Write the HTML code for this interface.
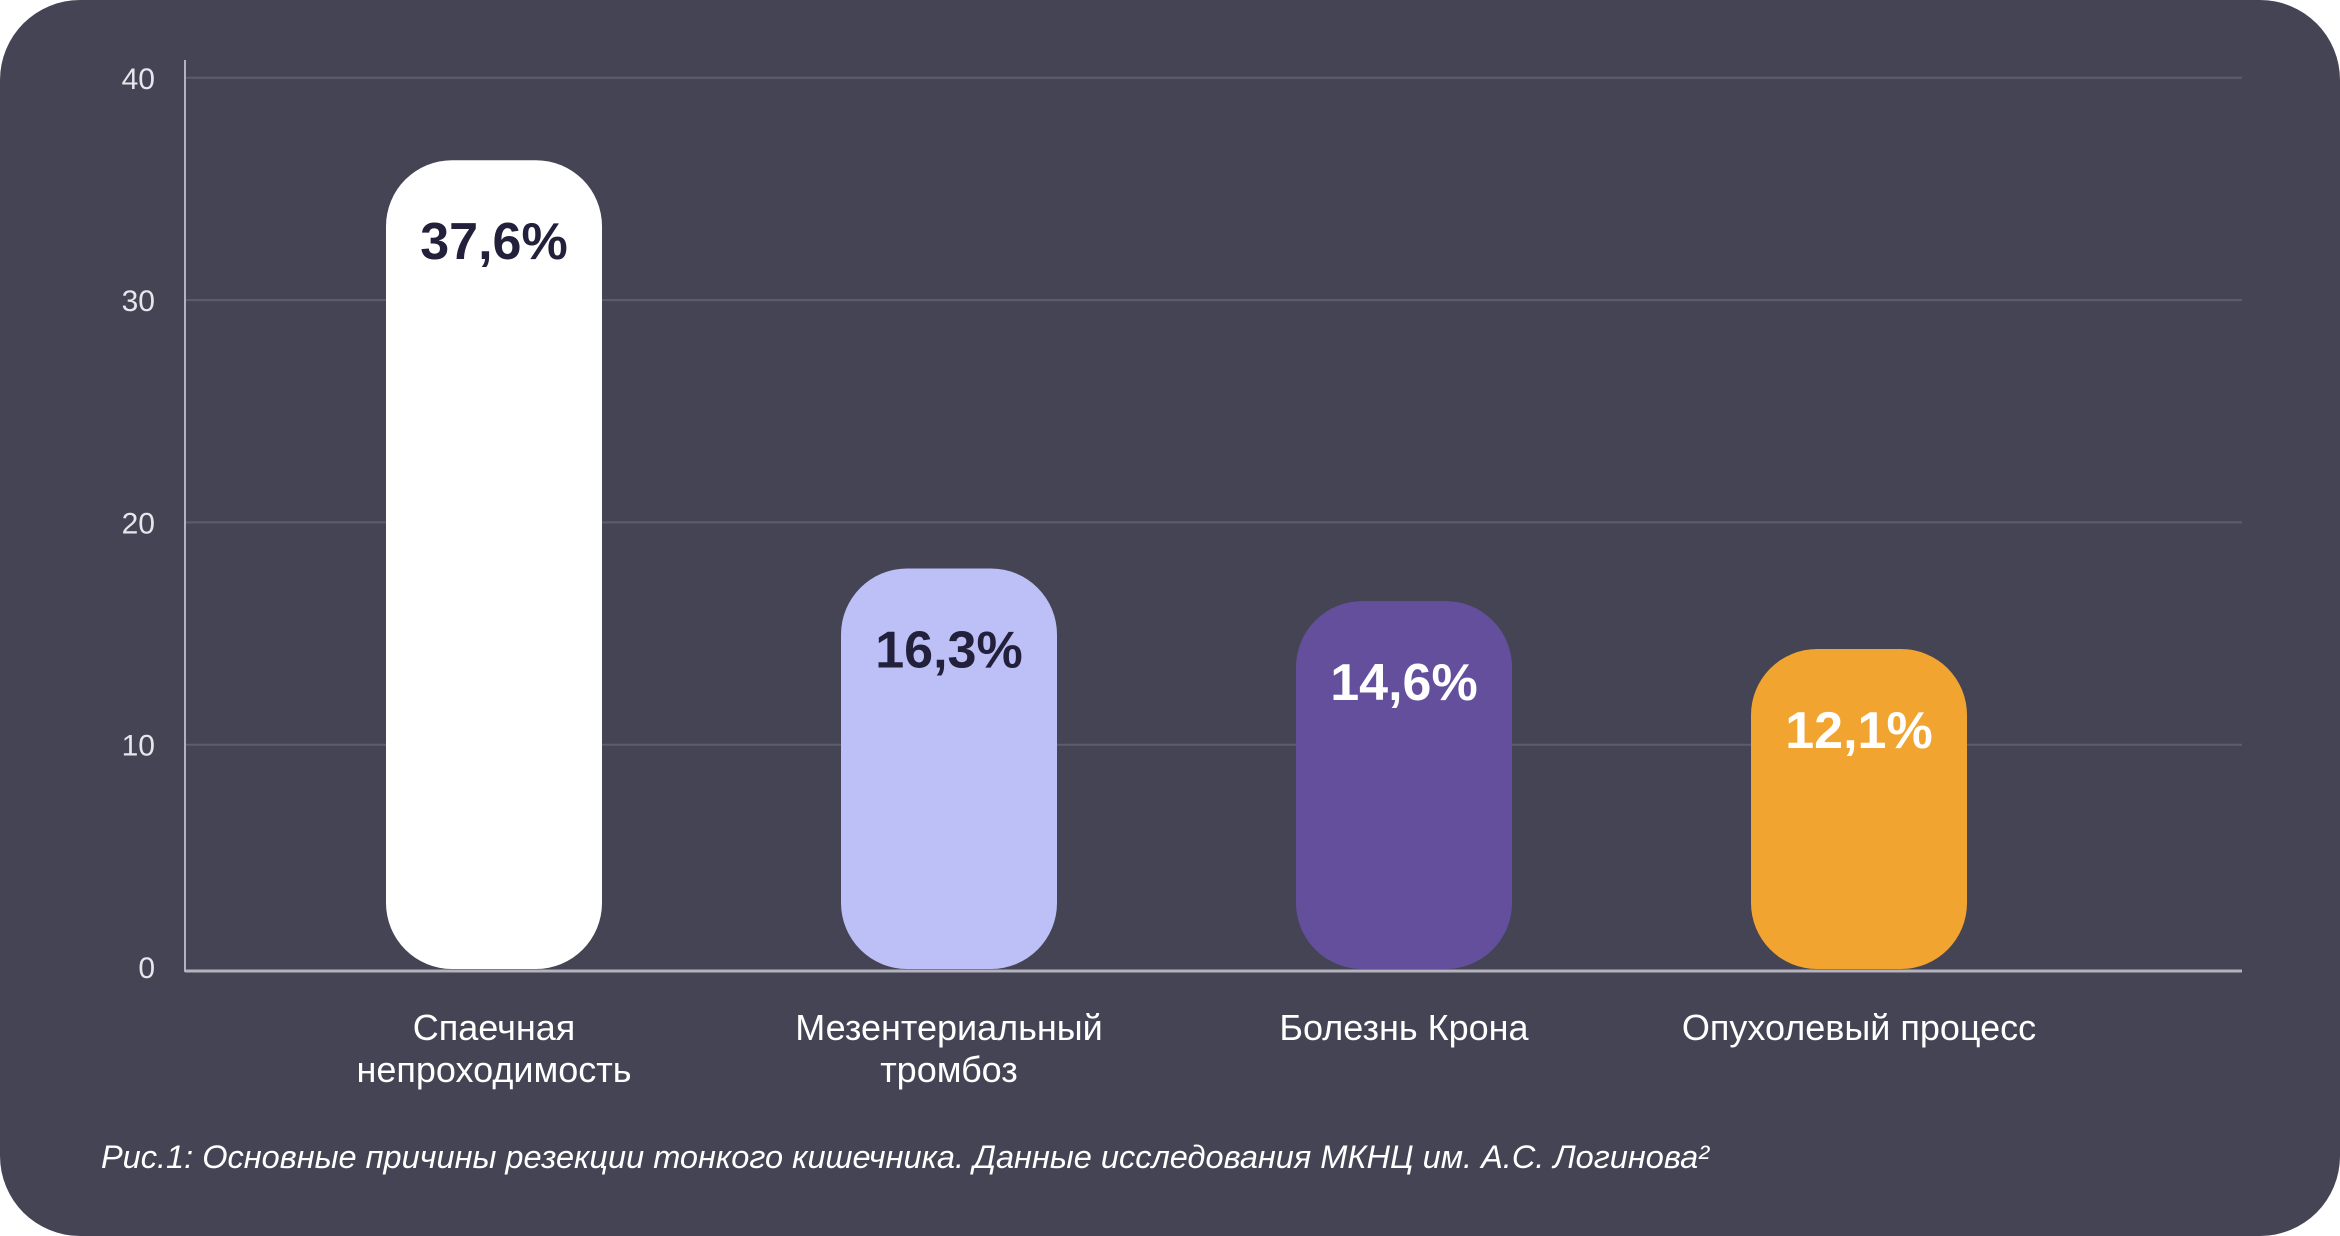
<!DOCTYPE html>
<html><head><meta charset="utf-8"><style>
html,body{margin:0;padding:0;background:#fff;}
svg{display:block;}
text{font-family:"Liberation Sans",sans-serif;}
</style></head><body>
<svg id="chart" width="2340" height="1236" viewBox="0 0 2340 1236">
<rect x="0" y="0" width="2340" height="1236" rx="80" ry="80" fill="#454454"/>
<g id="grid"></g>
<g id="bars"></g>
<line x1="185" y1="60" x2="185" y2="972" stroke="#b4b3bd" stroke-width="2"/>
<line x1="185" y1="971" x2="2242" y2="971" stroke="#b4b3bd" stroke-width="3"/>
<text x="101" y="1168" font-size="32" font-style="italic" fill="#ffffff" textLength="1608" lengthAdjust="spacingAndGlyphs">Рис.1: Основные причины резекции тонкого кишечника. Данные исследования МКНЦ им. А.С. Логинова²</text>
</svg>
<script>
const categories = [["Спаечная","непроходимость"],["Мезентериальный","тромбоз"],["Болезнь Крона"],["Опухолевый процесс"]];
const values = [37.6, 16.3, 14.6, 12.1];
const valueLabels = ["37,6%","16,3%","14,6%","12,1%"];
const ticks = [0,10,20,30,40];
const barColors = ["#ffffff","#bcc0f6","#634f9c","#f2a431"];
const labelColors = ["#22203a","#22203a","#ffffff","#ffffff"];

const NS="http://www.w3.org/2000/svg";
const x0=185, x1=2242, baseY=969;
function yTick(v){return 967 - v*22.23;}
function barH(v){return 88 + v*19.17;}
function xCenter(i){return 494 + i*455;}
const grid=document.getElementById('grid');
ticks.forEach(t=>{
  if(t>0){
    const l=document.createElementNS(NS,'line');
    l.setAttribute('x1',x0);l.setAttribute('x2',x1);
    l.setAttribute('y1',yTick(t));l.setAttribute('y2',yTick(t));
    l.setAttribute('stroke','#5e5d6d');l.setAttribute('stroke-width','2');
    
    
    grid.appendChild(l);
  }
  const tx=document.createElementNS(NS,'text');
  tx.setAttribute('x',155);tx.setAttribute('y',yTick(t)+11);
  tx.setAttribute('text-anchor','end');tx.setAttribute('font-size','30');
  tx.setAttribute('fill','#e6e6ec');
  tx.textContent=t;
  
  
  grid.appendChild(tx);
});
const bars=document.getElementById('bars');
const bw=216;
values.forEach((v,i)=>{
  const h=barH(v), cx=xCenter(i);
  const r=document.createElementNS(NS,'rect');
  r.setAttribute('x',cx-bw/2);r.setAttribute('y',baseY-h);
  r.setAttribute('width',bw);r.setAttribute('height',h);
  r.setAttribute('rx',66);r.setAttribute('ry',66);
  r.setAttribute('fill',barColors[i]);
  
  
  bars.appendChild(r);
  const t=document.createElementNS(NS,'text');
  t.setAttribute('x',cx);t.setAttribute('y',baseY-h+99);
  t.setAttribute('text-anchor','middle');t.setAttribute('font-size','52');
  t.setAttribute('font-weight','bold');t.setAttribute('fill',labelColors[i]);
  t.textContent=valueLabels[i];
  
  
  bars.appendChild(t);
  categories[i].forEach((line,j)=>{
    const c=document.createElementNS(NS,'text');
    c.setAttribute('x',cx);c.setAttribute('y',1040+j*42);
    c.setAttribute('text-anchor','middle');c.setAttribute('font-size','36');
    c.setAttribute('fill','#ffffff');
    c.textContent=line;
    
    
    bars.appendChild(c);
  });
});
</script>
</body></html>
